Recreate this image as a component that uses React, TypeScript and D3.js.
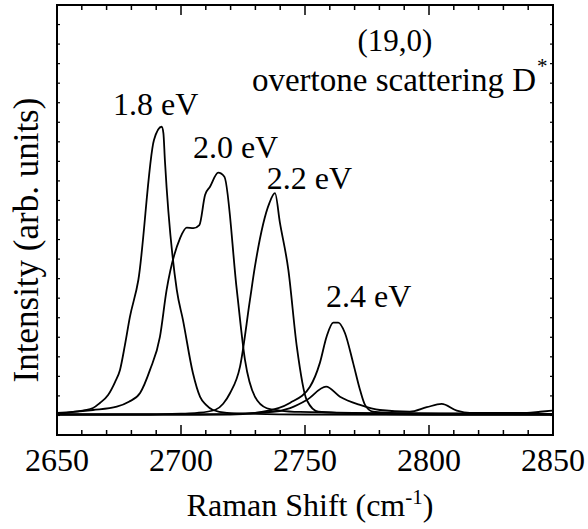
import React from "react";
import * as d3 from "d3";

// Raman spectra, (19,0) tube, D* overtone
const shift18 = [2650, 2656.5, 2664.5, 2667.3, 2670.6, 2673.4, 2675.4, 2677.4, 2679.4, 2682.8, 2689.1, 2692.2, 2692.9, 2693.5, 2698.3, 2700.8, 2704.8, 2707.7, 2710, 2712.9, 2718.5, 2730, 2750, 2850];
const int18 = [0.08, 0.18, 0.38, 0.64, 1.05, 1.71, 2.33, 3.61, 5.04, 6.93, 14.09, 14.77, 14.45, 13.07, 6.42, 4.88, 2.17, 0.95, 0.55, 0.28, 0.13, 0.08, 0.05, 0.03];

const shift20 = [2650, 2656.5, 2664.5, 2674.1, 2679, 2683.5, 2687.5, 2691.5, 2694.2, 2699.6, 2702.3, 2705.0, 2707.4, 2709.7, 2711.7, 2715.0, 2717.5, 2722.5, 2725.8, 2729.8, 2734.6, 2739.9, 2748, 2800, 2850];
const int20 = [0.13, 0.18, 0.28, 0.45, 0.7, 1.15, 2.33, 4.02, 6.42, 9.06, 9.61, 9.58, 9.74, 11.28, 11.70, 12.42, 12.21, 6.42, 2.84, 0.96, 0.37, 0.25, 0.18, 0.1, 0.08];

const shift22 = [2650, 2687.5, 2700, 2706.5, 2713.7, 2717, 2719.8, 2723.8, 2727.8, 2729.8, 2735.6, 2737.9, 2739.9, 2743.3, 2746.7, 2750.7, 2755.4, 2764.1, 2800, 2850];
const int22 = [0.05, 0.05, 0.09, 0.13, 0.28, 0.6, 1.15, 2.5, 5.91, 7.61, 10.85, 11.37, 9.85, 7.44, 3.52, 0.79, 0.19, 0.13, 0.05, 0.05];

const shift24 = [2650, 2719.8, 2733.1, 2743.9, 2752.0, 2756.0, 2758.7, 2761.4, 2763.4, 2766.1, 2769.4, 2772.2, 2774.2, 2777.4, 2784.3, 2820, 2850];
const int24 = [0.05, 0.05, 0.19, 0.64, 1.47, 2.69, 4.03, 4.75, 4.75, 4.22, 2.69, 1.30, 0.54, 0.19, 0.13, 0.08, 0.06];

const shiftLow = [2650, 2707.7, 2737.1, 2744.0, 2750.7, 2758.5, 2764.1, 2772.2, 2780.2, 2792.3, 2799.1, 2805.1, 2811.2, 2816.5, 2839.5, 2844.8, 2849.6];
const intLow = [0.05, 0.05, 0.19, 0.38, 0.79, 1.47, 0.96, 0.54, 0.28, 0.19, 0.42, 0.59, 0.25, 0.13, 0.13, 0.19, 0.25];

const series = [
  { x: shift18, y: int18 },
  { x: shift20, y: int20 },
  { x: shift22, y: int22 },
  { x: shift24, y: int24 },
  { x: shiftLow, y: intLow },
];

const peakLabels = ["1.8 eV", "2.0 eV", "2.2 eV", "2.4 eV"];
const peakLabelShift = [2672.6, 2704.8, 2734.6, 2758.5];
const peakLabelInt = [15.37, 13.17, 11.57, 5.57];

const xTickLabels = [2650, 2700, 2750, 2800, 2850];

const W = 588;
const H = 529;
const margin = { left: 57, right: 35, top: 5, bottom: 94 };
const SERIF = "Liberation Serif";

export default function App() {
  const x = d3.scaleLinear().domain([2650, 2850]).range([margin.left, W - margin.right]);
  const y = d3.scaleLinear().domain([-1, 21]).range([H - margin.bottom, margin.top]);

  const line = d3
    .line<[number, number]>()
    .x(d => x(d[0]))
    .y(d => y(d[1]))
    .curve(d3.curveMonotoneX);

  const x0 = margin.left;
  const x1 = W - margin.right;
  const y0 = H - margin.bottom;
  const y1 = margin.top;

  const minorX = d3.range(2650, 2851, 10);
  const yTicks = d3.range(-1, 22, 1);

  return (
    <svg width={W} height={H} fontFamily={SERIF} style={{ position: "absolute", left: 0, top: 0, background: "#fff" }}>
      {/* curves */}
      {series.map((s, i) => (
        <path
          key={i}
          d={line(s.x.map((v, k) => [v, s.y[k]] as [number, number])) || ""}
          fill="none"
          stroke="#000"
          strokeWidth={1.8}
          strokeLinejoin="round"
        />
      ))}

      {/* ticks, inside on all sides */}
      {minorX.map(t => {
        const len = t % 50 === 0 ? 10 : 5;
        return (
          <g key={"xt" + t}>
            <line x1={x(t)} x2={x(t)} y1={y0} y2={y0 - len} stroke="#000" strokeWidth={1.5} />
            <line x1={x(t)} x2={x(t)} y1={y1} y2={y1 + len} stroke="#000" strokeWidth={1.5} />
          </g>
        );
      })}
      {yTicks.map(t => (
        <g key={"yt" + t}>
          <line x1={x0} x2={x0 + 3} y1={y(t)} y2={y(t)} stroke="#000" strokeWidth={1.2} />
          <line x1={x1} x2={x1 - 3} y1={y(t)} y2={y(t)} stroke="#000" strokeWidth={1.2} />
        </g>
      ))}

      {/* frame */}
      <rect x={x0} y={y1} width={x1 - x0} height={y0 - y1} fill="none" stroke="#000" strokeWidth={2} />

      {/* x tick labels */}
      {xTickLabels.map(t => (
        <text key={"xl" + t} x={x(t)} y={471} textAnchor="middle" fontSize={32}>
          {t}
        </text>
      ))}

      {/* axis titles */}
      <text x={310} y={516} textAnchor="middle" fontSize={32}>
        Raman Shift (cm
        <tspan fontSize={21} dy={-12}>-1</tspan>
        <tspan dy={12}>)</tspan>
      </text>
      <text transform={`translate(38,240) rotate(-90)`} textAnchor="middle" fontSize={35}>
        Intensity (arb. units)
      </text>

      {/* annotations */}
      {peakLabels.map((lbl, i) => (
        <text key={lbl} x={x(peakLabelShift[i])} y={y(peakLabelInt[i])} fontSize={32}>
          {lbl}
        </text>
      ))}
      <text x={395} y={51} textAnchor="middle" fontSize={31}>
        (19,0)
      </text>
      <text x={536} y={91} textAnchor="end" fontSize={33}>
        overtone scattering D
      </text>
      <text x={537} y={73} fontSize={21}>
        *
      </text>
    </svg>
  );
}
